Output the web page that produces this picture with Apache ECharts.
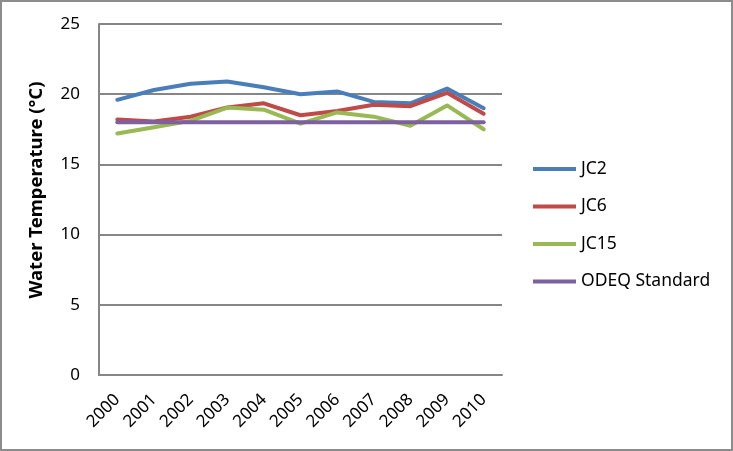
<!DOCTYPE html>
<html>
<head>
<meta charset="utf-8">
<script src="https://cdn.jsdelivr.net/npm/echarts@6/dist/echarts.min.js"></script>
<style>
html,body{margin:0;padding:0;background:#fff;}
#chart{width:733px;height:451px;}
</style>
</head>
<body>
<div id="chart"></div>
<script>
var years = ['2000','2001','2002','2003','2004','2005','2006','2007','2008','2009','2010'];
var jc2   = [19.6, 20.3, 20.75, 20.9, 20.5, 20.0, 20.2, 19.45, 19.35, 20.4, 19.0];
var jc6   = [18.2, 18.05, 18.4, 19.05, 19.35, 18.5, 18.8, 19.25, 19.15, 20.1, 18.6];
var jc15  = [17.2, 17.65, 18.1, 19.05, 18.9, 17.9, 18.7, 18.4, 17.75, 19.2, 17.5];
var odeq  = [18, 18, 18, 18, 18, 18, 18, 18, 18, 18, 18];
var seriesNames = ['JC2', 'JC6', 'JC15', 'ODEQ Standard'];
var colors = ['#4A7EBB', '#BE4B48', '#98B954', '#7D60A0'];
var yTicks = {min: 0, max: 25, interval: 5};

var font = 'Noto Sans';
var chart = echarts.init(document.getElementById('chart'), null, {renderer: 'canvas'});
var data = [jc2, jc6, jc15, odeq];
chart.setOption({
  animation: false,
  backgroundColor: '#fff',
  color: colors,
  textStyle: {fontFamily: font},
  graphic: [{
    type: 'rect', silent: true,
    shape: {x: 1, y: 1, width: 731, height: 449},
    style: {fill: 'none', stroke: '#8c8c8c', lineWidth: 2}
  }],
  grid: {left: 99, right: 231, top: 24, bottom: 76, containLabel: false},
  legend: {
    orient: 'vertical', left: 533, top: 159, padding: 0,
    icon: 'rect', itemWidth: 43, itemHeight: 4, itemGap: 17.5,
    textStyle: {fontSize: 17.5, color: '#000', fontFamily: font, lineHeight: 20},
    data: seriesNames
  },
  xAxis: {
    type: 'category', data: years, boundaryGap: true,
    axisLine: {show: true, lineStyle: {color: '#868686', width: 2}},
    axisTick: {show: false},
    axisLabel: {rotate: 45, fontSize: 17, color: '#000', margin: 22, fontFamily: font, interval: 0}
  },
  yAxis: {
    type: 'value', min: yTicks.min, max: yTicks.max, interval: yTicks.interval,
    name: 'Water Temperature (°C)', nameLocation: 'middle', nameGap: 53, nameRotate: 90,
    nameTextStyle: {fontSize: 18.5, fontWeight: 'bold', color: '#000', fontFamily: font, padding: [0, 0, 0, 19]},
    axisLine: {show: true, lineStyle: {color: '#868686', width: 2}},
    axisTick: {show: false},
    axisLabel: {fontSize: 17, color: '#000', margin: 19, fontFamily: font},
    splitLine: {show: true, lineStyle: {color: '#868686', width: 2}}
  },
  series: data.map(function (d, i) {
    return {
      name: seriesNames[i], type: 'line', data: d,
      showSymbol: false, symbol: 'none',
      lineStyle: {width: 4, color: colors[i], cap: 'round', join: 'round'},
      itemStyle: {color: colors[i]}
    };
  })
});
</script>
</body>
</html>
